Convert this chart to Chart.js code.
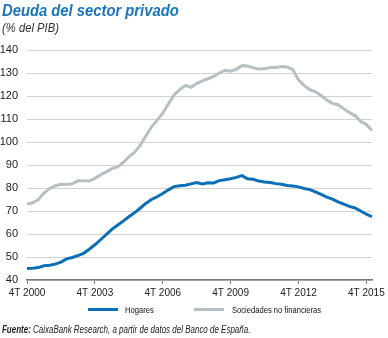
<!DOCTYPE html>
<html>
<head>
<meta charset="utf-8">
<script src="https://cdn.jsdelivr.net/npm/chart.js@4"></script>
<style>
  html, body { margin: 0; padding: 0; background: #fff; }
  #wrap { position: relative; width: 388px; height: 338px; overflow: hidden; font-family: "Liberation Sans", Arial, sans-serif; }
  #myChart { position: absolute; left: 0; top: 0; }
  .txt { position: absolute; white-space: nowrap; transform-origin: 0 50%; }
  .title { left: 2px; top: 1px; font-size: 17px; font-weight: bold; font-style: italic; color: #1b75bc; transform: scaleX(0.87); }
  .subtitle { left: 2px; top: 21px; font-size: 12.5px; font-style: italic; color: #333; transform: scaleX(0.9); }
  .sw { position: absolute; top: 308px; width: 30px; height: 3px; }
  .leg { top: 304px; font-size: 9.5px; color: #111; transform: scaleX(0.8); }
  .source { left: 2px; top: 323px; font-size: 10.5px; font-style: italic; color: #222; transform: scaleX(0.76); }
</style>
</head>
<body>
<div id="wrap">
  <canvas id="myChart" width="388" height="338"></canvas>
  <div class="txt title">Deuda del sector privado</div>
  <div class="txt subtitle">(% del PIB)</div>
  <span class="sw" style="left:88px;background:#0b6fb7"></span>
  <span class="txt leg" style="left:125px">Hogares</span>
  <span class="sw" style="left:194px;background:#b6c0c4"></span>
  <span class="txt leg" style="left:232px">Sociedades no financieras</span>
  <div class="txt source"><b>Fuente:</b> CaixaBank Research, a partir de datos del Banco de España.</div>
</div>
<script>
const quarters = [
    '4T 2000',
    '1T 2001', '2T 2001', '3T 2001', '4T 2001',
    '1T 2002', '2T 2002', '3T 2002', '4T 2002',
    '1T 2003', '2T 2003', '3T 2003', '4T 2003',
    '1T 2004', '2T 2004', '3T 2004', '4T 2004',
    '1T 2005', '2T 2005', '3T 2005', '4T 2005',
    '1T 2006', '2T 2006', '3T 2006', '4T 2006',
    '1T 2007', '2T 2007', '3T 2007', '4T 2007',
    '1T 2008', '2T 2008', '3T 2008', '4T 2008',
    '1T 2009', '2T 2009', '3T 2009', '4T 2009',
    '1T 2010', '2T 2010', '3T 2010', '4T 2010',
    '1T 2011', '2T 2011', '3T 2011', '4T 2011',
    '1T 2012', '2T 2012', '3T 2012', '4T 2012',
    '1T 2013', '2T 2013', '3T 2013', '4T 2013',
    '1T 2014', '2T 2014', '3T 2014', '4T 2014',
    '1T 2015', '2T 2015', '3T 2015', '4T 2015',
    '1T 2016'
];
const tickLabels = ['4T 2000', '4T 2003', '4T 2006', '4T 2009', '4T 2012', '4T 2015'];

const hogares = [45.0, 45.1, 45.4, 46.2, 46.4, 46.9, 47.8, 49.2, 49.8, 50.6, 51.6, 53.4,
    55.3, 57.5, 59.7, 62.0, 63.8, 65.6, 67.5, 69.2, 71.2, 73.3, 75.0, 76.2,
    77.6, 79.2, 80.6, 81.0, 81.2, 81.8, 82.4, 81.8, 82.3, 82.2, 83.2, 83.6,
    84.0, 84.6, 85.4, 84.0, 83.8, 83.0, 82.6, 82.4, 81.9, 81.6, 81.1, 80.9,
    80.5, 79.8, 79.3, 78.3, 77.2, 76.0, 75.2, 74.0, 73.0, 72.0, 71.3, 70.0,
    68.6, 67.5];
const sociedades = [73.0, 73.6, 75.0, 77.8, 79.8, 81.0, 81.6, 81.5, 81.8, 83.1, 83.1, 83.0,
    84.2, 85.7, 87.0, 88.4, 89.2, 91.0, 93.5, 95.5, 98.5, 102.5, 106.5, 109.5,
    112.5, 116.5, 120.5, 122.8, 124.6, 123.8, 125.4, 126.6, 127.5, 128.5, 130.0, 131.2,
    130.8, 131.6, 133.2, 133.0, 132.3, 131.7, 131.8, 132.4, 132.4, 132.8, 132.6, 131.5,
    127.0, 124.5, 122.8, 121.8, 120.2, 118.3, 116.8, 116.2, 114.4, 112.8, 111.5, 109.0,
    107.6, 105.0];

Chart.defaults.font.family = '"Liberation Sans", Arial, sans-serif';
Chart.defaults.color = '#222';

const ctx = document.getElementById('myChart').getContext('2d');
const myChart = new Chart(ctx, {
    type: 'line',
    data: {
        labels: quarters,
        datasets: [{
            label: 'Sociedades no financieras',
            data: sociedades,
            borderColor: '#b6c0c4',
            borderWidth: 3,
            pointRadius: 0,
            tension: 0,
            fill: false
        }, {
            label: 'Hogares',
            data: hogares,
            borderColor: '#0b6fb7',
            borderWidth: 3,
            pointRadius: 0,
            tension: 0,
            fill: false
        }]
    },
    options: {
        responsive: false,
        animation: false,
        layout: { padding: { left: 0, right: 16, top: 50, bottom: 36 } },
        scales: {
            x: {
                grid: {
                    drawOnChartArea: false,
                    drawTicks: true,
                    tickLength: 4,
                    // only the labelled quarters get a tick mark
                    color: c => tickLabels.includes(quarters[c.index]) ? '#777' : 'rgba(0,0,0,0)'
                },
                border: { color: '#777', width: 1.5 },
                ticks: {
                    autoSkip: false,
                    maxRotation: 0,
                    padding: 3,
                    font: { size: 10 },
                    callback: function (value, index) {
                        const q = quarters[index];
                        return tickLabels.includes(q) ? q : '';
                    }
                }
            },
            y: {
                min: 40,
                max: 140,
                afterFit: s => { s.width = 27; },
                grid: { color: '#d2d2d2', lineWidth: 1, drawTicks: false },
                border: { display: false },
                ticks: { stepSize: 10, padding: 9, font: { size: 11 } }
            }
        },
        plugins: {
            legend: { display: false },
            tooltip: { enabled: false }
        }
    }
});
</script>
</body>
</html>
